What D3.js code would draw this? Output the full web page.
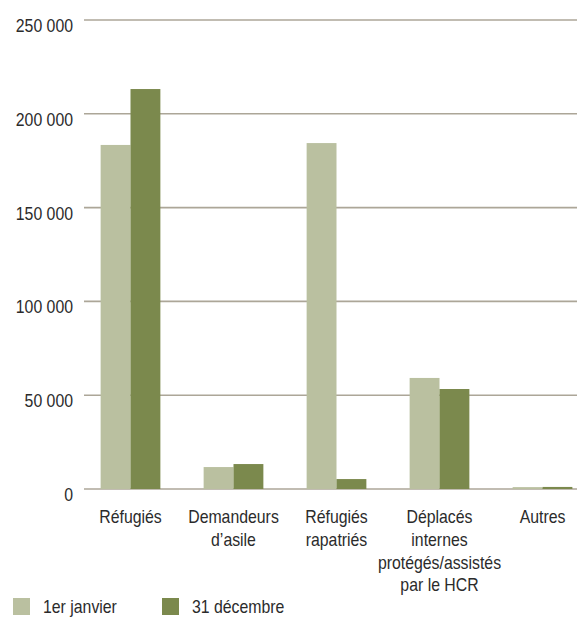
<!DOCTYPE html>
<html>
<head>
<meta charset="utf-8">
<script src="https://cdn.jsdelivr.net/npm/d3@7"></script>
<style>
  body { margin: 0; background: #fff; }
  svg { display: block; }
</style>
</head>
<body>
<div class="chart"></div>
<script>
const categories = ["Réfugiés", "Demandeurs d’asile", "Réfugiés rapatriés", "Déplacés internes protégés/assistés par le HCR", "Autres"];
const categoryLines = [
  ["Réfugiés"],
  ["Demandeurs", "d’asile"],
  ["Réfugiés", "rapatriés"],
  ["Déplacés", "internes", "protégés/assistés", "par le HCR"],
  ["Autres"]
];
const seriesNames = ["1er janvier", "31 décembre"];
const janValues = [183400, 11700, 184400, 59200, 1000];
const decValues = [213200, 13300, 5300, 53300, 1100];
const yTicks = [0, 50000, 100000, 150000, 200000, 250000];

const colors = ["#bac0a0", "#7b894d"];
const width = 577, height = 617;
// condensed look: Liberation Sans squeezed horizontally
const font = "'Liberation Sans', Arial, sans-serif";
const squeeze = 0.88;

const fr = d3.formatLocale({decimal: ",", thousands: " ", grouping: [3], currency: ["", " €"]});
const fmt = fr.format(",");

const svg = d3.select(".chart")
  .append("svg")
  .attr("width", width)
  .attr("height", height)
  .style("font-family", font);

const y = d3.scaleLinear()
  .domain([0, 250000])
  .range([489, 20]);

const x = d3.scaleBand()
  .domain(categories)
  .range([79, 594])
  .paddingInner(0.42)
  .paddingOuter(0.21);

const xs = d3.scaleBand()
  .domain(seriesNames)
  .range([0, x.bandwidth()]);

// gridlines
svg.append("g")
  .selectAll("line")
  .data(yTicks)
  .enter()
  .append("line")
  .attr("x1", 84)
  .attr("x2", width)
  .attr("y1", d => y(d))
  .attr("y2", d => y(d))
  .attr("stroke", "#aca698")
  .attr("stroke-width", 1.6);

// y labels
svg.append("g")
  .selectAll("text")
  .data(yTicks)
  .enter()
  .append("text")
  .attr("transform", d => `translate(73, ${y(d) + 12}) scale(${squeeze}, 1)`)
  .attr("text-anchor", "end")
  .attr("fill", "#2b2b2b")
  .style("font-size", "18px")
  .text(d => fmt(d));

// bars
const rows = categories.map((c, i) => ({category: c, values: [janValues[i], decValues[i]]}));

const groups = svg.selectAll("g.category")
  .data(rows)
  .enter()
  .append("g")
  .attr("class", "category")
  .attr("transform", d => `translate(${x(d.category)}, 0)`);

groups.selectAll("rect")
  .data(d => d.values.map((v, i) => ({series: seriesNames[i], value: v, i: i})))
  .enter()
  .append("rect")
  .attr("x", d => xs(d.series))
  .attr("y", d => y(d.value))
  .attr("width", xs.bandwidth())
  .attr("height", d => y(0) - y(d.value))
  .attr("fill", d => colors[d.i]);

// category labels
const labels = svg.append("g")
  .selectAll("text")
  .data(categories)
  .enter()
  .append("text")
  .attr("text-anchor", "middle")
  .attr("fill", "#2b2b2b")
  .style("font-size", "18px")
  .attr("transform", d => `translate(${x(d) + x.bandwidth() / 2}, 523) scale(${squeeze}, 1)`);

labels.selectAll("tspan")
  .data((d, i) => categoryLines[i])
  .enter()
  .append("tspan")
  .attr("x", 0)
  .attr("y", (d, i) => i * 22.8)
  .text(d => d);

// legend
const legend = svg.append("g")
  .selectAll("g")
  .data(seriesNames)
  .enter()
  .append("g")
  .attr("transform", (d, i) => `translate(${13 + i * 149}, 598)`);

legend.append("rect")
  .attr("width", 17)
  .attr("height", 17)
  .attr("fill", (d, i) => colors[i]);

legend.append("text")
  .attr("transform", `translate(30, 15) scale(${squeeze}, 1)`)
  .attr("fill", "#2b2b2b")
  .style("font-size", "18px")
  .text(d => d);
</script>
</body>
</html>
